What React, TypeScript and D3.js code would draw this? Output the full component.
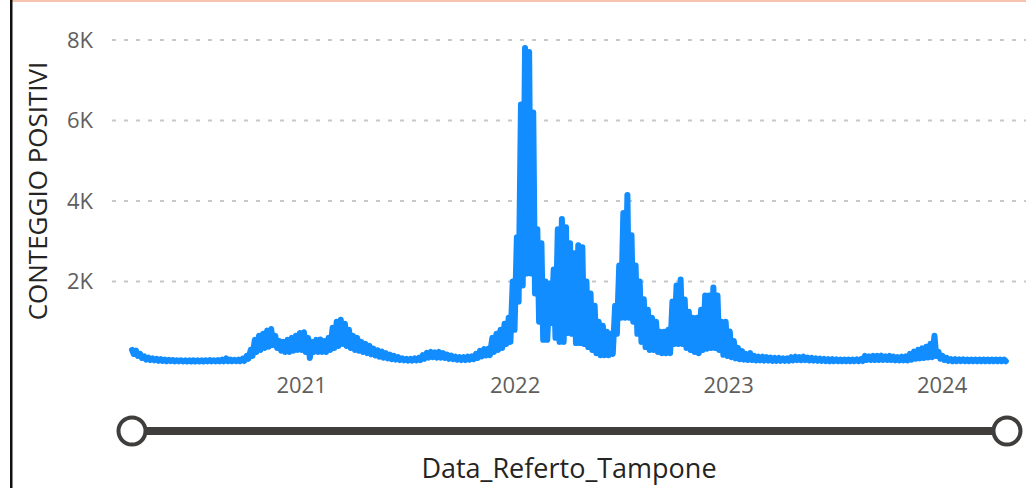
import * as d3 from 'd3'

// weekly peak / trough of daily positives
const firstWeek = new Date(2020, 2, 16)
const lastDay = new Date(2024, 3, 21)

const weeklyHigh = [
  300, 280, 200, 140, 110, 90, 80, 70, 60, 55,
  50, 45, 45, 40, 40, 45, 40, 40, 45, 50, 45, 50, 60, 90, 60, 55, 60, 80,
  150, 300, 550,
  650, 700, 780, 820, 650, 520, 500, 550, 600, 650, 720, 740, 600, 500, 550, 560, 520, 600,
  850, 1000, 1050, 950, 800, 650, 600, 500, 450, 400, 330, 290, 260, 220, 180, 150, 120,
  90, 80, 80, 90, 100,
  170, 230, 250, 240, 250, 220, 180, 160,
  130, 120, 120, 130, 140,
  200, 280, 320, 330,
  600, 700, 800, 950, 1100,
  2000, 3100, 6400, 7800, 7700, 6200,
  3300, 2950, 2000, 1950, 2300, 3300,
  3550, 3350, 2950, 2700, 2900, 2850,
  2000, 1700, 1400, 1000, 900, 750, 700,
  1400, 2400, 3700, 4150, 3150, 2400, 2000,
  1560, 1300, 1100, 1000, 750, 750, 800,
  1500, 1900, 2050, 1550, 1250, 1100, 1100,
  1300, 1650, 1650, 1850, 1650, 1000, 1000,
  760, 520, 350, 270, 200, 220,
  150, 130, 130, 120, 110, 100, 100, 90, 90,
  120, 130, 120, 130, 110, 100, 90,
  80, 75, 70, 70, 65, 60, 60, 60, 60, 65, 70,
  150, 140, 150, 150, 160, 140, 150, 130, 120, 130, 140,
  200, 260, 300, 340, 380, 450, 650,
  250, 150, 100,
  70, 70, 65, 65, 60, 60, 60, 60, 60, 60, 60, 60, 60, 60,
]

const weeklyLow = [
  200, 150, 100, 60, 50, 40, 30, 25, 20, 20,
  15, 15, 15, 12, 12, 12, 12, 12, 15, 15, 15, 15, 18, 20, 18, 18, 20, 25,
  80, 150, 250,
  300, 350, 380, 420, 350, 280, 250, 250, 280, 300, 300, 250, 100, 250, 250, 250, 250, 300,
  350, 400, 450, 400, 350, 300, 280, 250, 220, 190, 160, 130, 110, 90, 70, 60, 50,
  40, 35, 35, 40, 45,
  80, 110, 120, 110, 110, 100, 80, 70,
  60, 50, 50, 60, 70,
  100, 140, 160, 170,
  250, 300, 350, 450, 500,
  800, 1500, 1900, 2200, 2200, 1700,
  1000, 550, 550, 970, 600, 500,
  500, 720, 700, 470, 470, 450,
  370, 300, 220, 170, 170, 170, 200,
  700, 1100, 1100, 1100, 1000, 700, 500,
  370, 300, 300, 250, 220, 220, 220,
  450, 450, 450, 350, 300, 250, 220,
  300, 330, 350, 350, 300, 180, 150,
  120, 90, 70, 60, 50, 50,
  40, 40, 35, 35, 30, 30, 30, 30, 30,
  40, 45, 45, 45, 40, 35, 30,
  25, 20, 20, 20, 20, 20, 20, 20, 20, 20, 25,
  50, 50, 50, 50, 50, 50, 50, 40, 40, 40, 40,
  60, 80, 90, 100, 110, 120, 150,
  80, 50, 30,
  20, 20, 20, 20, 20, 20, 20, 20, 20, 20, 20, 20, 20, 20,
]

const yTicks = [2000, 4000, 6000, 8000]
const yTickLabels = ['2K', '4K', '6K', '8K']
const xTickYears = [2021, 2022, 2023, 2024]

const W = 1026
const H = 488
const FONT = "'Segoe UI', 'Open Sans', sans-serif"

export default function App() {
  const x = d3.scaleTime().domain([d3.timeDay.offset(firstWeek, 1), lastDay]).range([132, 1007])
  const y = d3.scaleLinear().domain([0, 8000]).range([362, 40])

  // zigzag: mid-week peak then weekend trough
  const points: [Date, number][] = []
  weeklyHigh.forEach((h, i) => {
    const start = d3.timeWeek.offset(firstWeek, i)
    points.push([d3.timeDay.offset(start, 1), h])
    points.push([d3.timeDay.offset(start, 4), weeklyLow[i]])
  })

  const line = d3.line<[Date, number]>()
    .x(d => x(d[0]))
    .y(d => y(d[1]))

  const [x0, x1] = x.range()

  return (
    <svg width={W} height={H} style={{ position: 'absolute', left: 0, top: 0, background: '#fff' }}>
      {/* frame */}
      <rect x={12} y={0} width={W - 12} height={2} fill="#F6C4AE" />
      <rect x={10} y={0} width={2.5} height={H} fill="#111" />

      {/* grid */}
      {yTicks.map(t => (
        <line key={t} x1={112} x2={W} y1={y(t)} y2={y(t)}
          stroke="#C8C8C8" strokeWidth={2} strokeDasharray="4 8" />
      ))}
      {yTicks.map((t, i) => (
        <text key={t} x={93} y={y(t)} dy="0.35em" textAnchor="end"
          fontFamily={FONT} fontSize={22} fill="#605E5C">{yTickLabels[i]}</text>
      ))}
      {xTickYears.map(yr => (
        <text key={yr} x={x(new Date(yr, 0, 1))} y={385} dy="0.35em" textAnchor="middle"
          fontFamily={FONT} fontSize={22} fill="#605E5C">{yr}</text>
      ))}

      <text transform={`translate(47, 191) rotate(-90)`} textAnchor="middle"
        fontFamily={FONT} fontSize={26} fill="#252423">CONTEGGIO POSITIVI</text>

      <path d={line(points) ?? ''} fill="none" stroke="#118DFF" strokeWidth={6}
        strokeLinejoin="round" strokeLinecap="round" />

      {/* range slider */}
      <line x1={x0} x2={x1} y1={431} y2={431} stroke="#403E3C" strokeWidth={8} />
      {[x0, x1].map(cx => (
        <circle key={cx} cx={cx} cy={431} r={13.5} fill="#fff" stroke="#403E3C" strokeWidth={4} />
      ))}

      <text x={569} y={469} dy="0.35em" textAnchor="middle"
        fontFamily={FONT} fontSize={27} fill="#252423">Data_Referto_Tampone</text>
    </svg>
  )
}
